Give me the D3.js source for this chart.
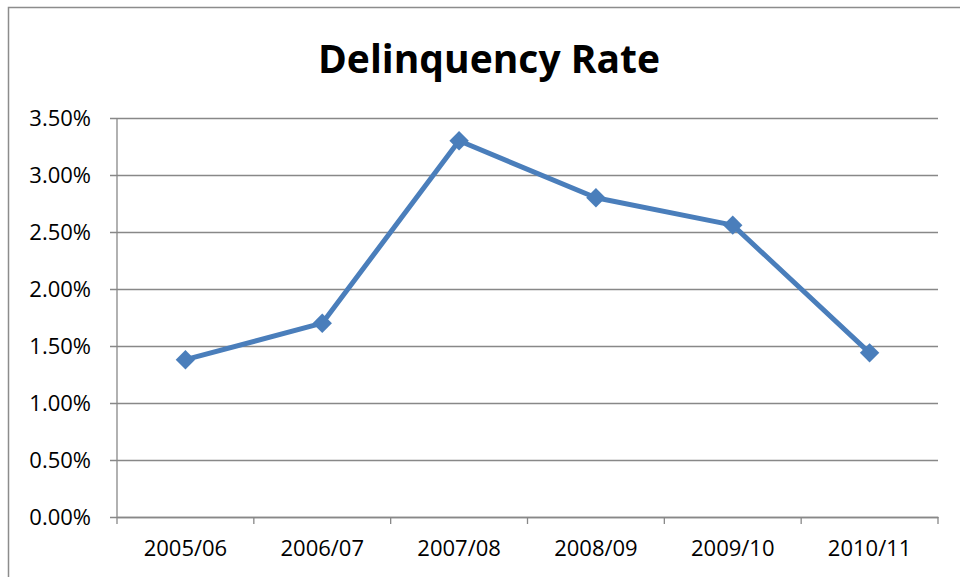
<!DOCTYPE html>
<html>
<head>
<meta charset="utf-8">
<script src="https://cdn.jsdelivr.net/npm/d3@7"></script>
<style>
  body { margin: 0; background: #fff; }
  svg { display: block; }
</style>
</head>
<body>
<div id="chart"></div>
<script>
// chart data
var years = ['2005/06', '2006/07', '2007/08', '2008/09', '2009/10', '2010/11'];
var rates = [0.0138, 0.0170, 0.0330, 0.0280, 0.0256, 0.0144];
var yTicks = [0, 0.005, 0.01, 0.015, 0.02, 0.025, 0.03, 0.035];

var width = 960, height = 577;
var plotLeft = 117, plotRight = 938, plotTop = 118, plotBottom = 517;
var lineColor = '#4a7ebb';
var font = '"Open Sans", "Noto Sans", sans-serif';

var svg = d3.select('#chart').append('svg')
    .attr('width', width).attr('height', height);

// outer chart border
svg.append('rect')
    .attr('x', 8.5).attr('y', 7.5)
    .attr('width', 980).attr('height', 600)
    .attr('fill', 'none').attr('stroke', '#8c8c8c').attr('stroke-width', 1.5);

svg.append('text')
    .attr('x', 489).attr('y', 73)
    .attr('text-anchor', 'middle')
    .style('font-family', font)
    .style('font-weight', 'bold')
    .style('font-size', '39px')
    .text('Delinquency Rate');

var x = d3.scaleBand().domain(years).range([plotLeft, plotRight]);
var y = d3.scaleLinear().domain([0, 0.035]).range([plotBottom, plotTop]);

// gridlines + y axis
var yAxis = d3.axisLeft(y)
    .tickValues(yTicks)
    .tickFormat(d3.format('.2%'))
    .tickSize(-(plotRight - plotLeft))
    .tickPadding(26);

var yg = svg.append('g')
    .attr('transform', 'translate(' + plotLeft + ',0)')
    .call(yAxis);
yg.select('.domain').remove();
yg.selectAll('.tick line')
    .attr('x1', -7)
    .attr('stroke', '#888').attr('stroke-width', 1.3);
yg.selectAll('.tick text')
    .style('font-family', font)
    .style('font-size', '22px').attr('fill', '#000');

// vertical axis line
svg.append('line')
    .attr('x1', plotLeft).attr('x2', plotLeft)
    .attr('y1', plotTop).attr('y2', plotBottom)
    .attr('stroke', '#888').attr('stroke-width', 1.3);

// x axis: ticks at category boundaries
var xg = svg.append('g')
    .attr('transform', 'translate(0,' + plotBottom + ')')
    .call(d3.axisBottom(x).tickSize(0).tickPadding(23));
xg.select('.domain').attr('stroke', '#888').attr('stroke-width', 1.3);
xg.selectAll('.tick text')
    .style('font-family', font)
    .style('font-size', '22px').attr('fill', '#000');
var bounds = years.map(function(d) { return x(d); }).concat([plotRight]);
xg.selectAll('.bound')
    .data(bounds)
    .enter().append('line')
    .attr('class', 'bound')
    .attr('x1', function(d) { return d; }).attr('x2', function(d) { return d; })
    .attr('y1', 0).attr('y2', 7)
    .attr('stroke', '#888').attr('stroke-width', 1.3);

// series line
var line = d3.line()
    .x(function(d, i) { return x(years[i]) + x.bandwidth() / 2; })
    .y(function(d) { return y(d); });

svg.append('path')
    .datum(rates)
    .attr('d', line)
    .attr('fill', 'none')
    .attr('stroke', lineColor)
    .attr('stroke-width', 5)
    .attr('stroke-linejoin', 'round');

svg.selectAll('.marker')
    .data(rates)
    .enter().append('path')
    .attr('class', 'marker')
    .attr('d', d3.symbol().type(d3.symbolDiamond2).size(240))
    .attr('transform', function(d, i) {
        return 'translate(' + (x(years[i]) + x.bandwidth() / 2) + ',' + y(d) + ')';
    })
    .attr('fill', lineColor);
</script>
</body>
</html>
